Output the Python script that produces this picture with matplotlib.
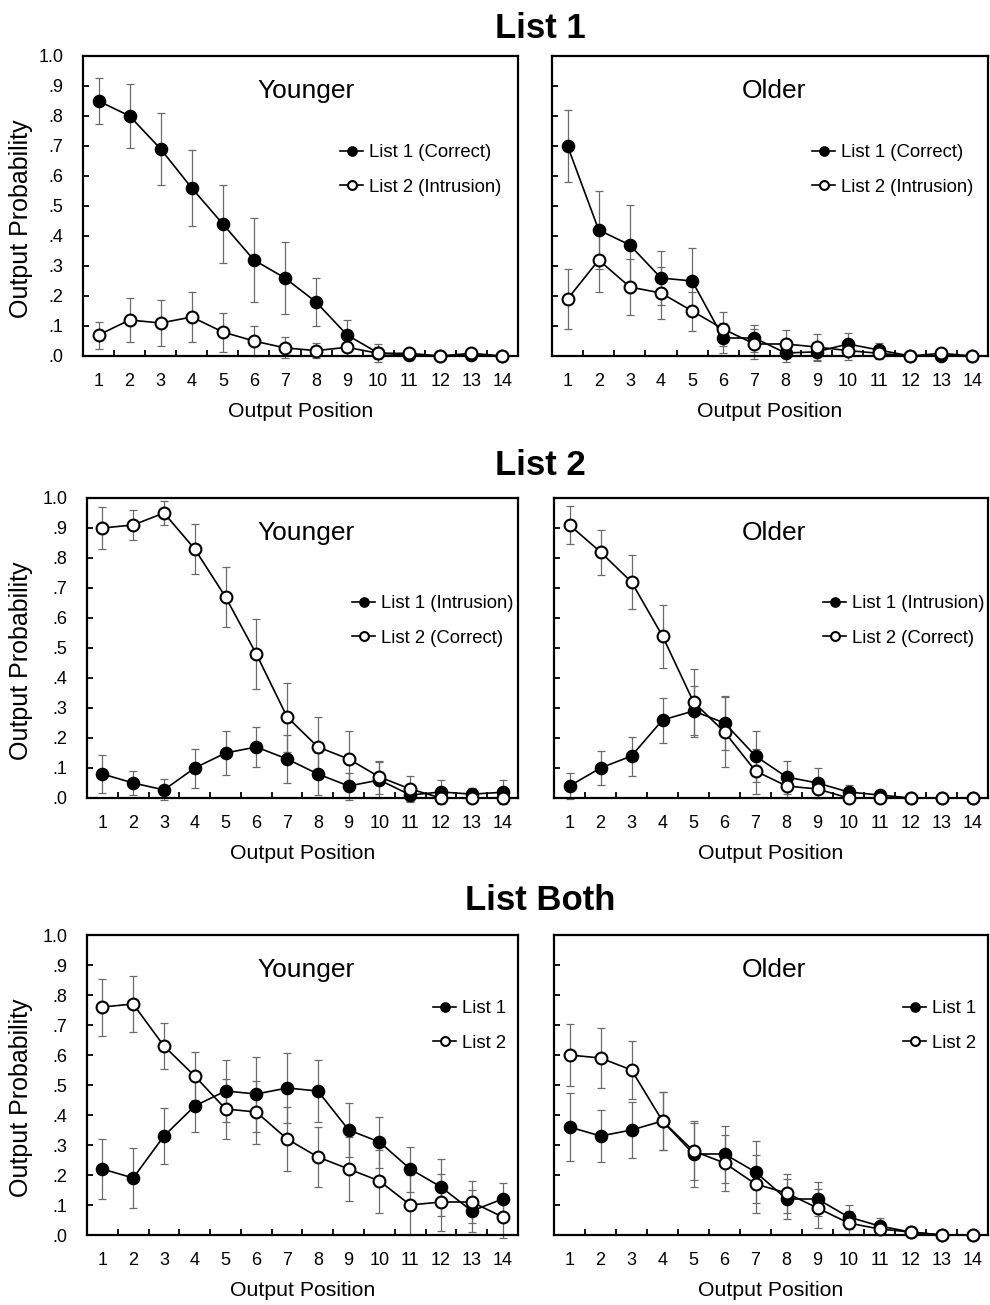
import numpy as np
import matplotlib
matplotlib.use("Agg")
import matplotlib.pyplot as plt

plt.rcParams['font.family'] = ['Liberation Sans', 'DejaVu Sans']

positions = list(range(1, 15))
x_labels = [str(p) for p in positions]
y_ticks = [0.0, 0.1, 0.2, 0.3, 0.4, 0.5, 0.6, 0.7, 0.8, 0.9, 1.0]
y_labels = ['.0', '.1', '.2', '.3', '.4', '.5', '.6', '.7', '.8', '.9', '1.0']

row_titles = ['List 1', 'List 2', 'List Both']
group_names = ['Younger', 'Older']
legend_labels = [
    ['List 1 (Correct)', 'List 2 (Intrusion)'],
    ['List 1 (Intrusion)', 'List 2 (Correct)'],
    ['List 1', 'List 2'],
]

# ---- List 1 test ----
l1_young_list1 = [0.85, 0.80, 0.69, 0.56, 0.44, 0.32, 0.26, 0.18, 0.07, 0.01, 0.003, 0.0, 0.003, 0.0]
l1_young_list1_err = [0.078, 0.107, 0.12, 0.127, 0.131, 0.14, 0.12, 0.08, 0.05, 0.03, 0.01, 0.0, 0.01, 0.0]
l1_young_list2 = [0.07, 0.12, 0.11, 0.13, 0.08, 0.05, 0.027, 0.018, 0.029, 0.009, 0.009, 0.0, 0.009, 0.0]
l1_young_list2_err = [0.045, 0.073, 0.078, 0.083, 0.065, 0.05, 0.035, 0.024, 0.03, 0.02, 0.012, 0.0, 0.012, 0.0]

l1_old_list1 = [0.70, 0.42, 0.37, 0.26, 0.25, 0.06, 0.06, 0.01, 0.014, 0.04, 0.02, 0.0, 0.0, 0.0]
l1_old_list1_err = [0.12, 0.13, 0.135, 0.09, 0.11, 0.05, 0.045, 0.03, 0.03, 0.038, 0.025, 0.0, 0.01, 0.0]
l1_old_list2 = [0.19, 0.32, 0.23, 0.21, 0.15, 0.09, 0.04, 0.04, 0.03, 0.018, 0.009, 0.0, 0.009, 0.0]
l1_old_list2_err = [0.10, 0.105, 0.093, 0.088, 0.065, 0.058, 0.05, 0.048, 0.044, 0.03, 0.02, 0.0, 0.012, 0.0]

# ---- List 2 test ----
l2_young_list1 = [0.08, 0.05, 0.027, 0.10, 0.15, 0.17, 0.13, 0.08, 0.04, 0.06, 0.01, 0.02, 0.013, 0.019]
l2_young_list1_err = [0.063, 0.039, 0.035, 0.065, 0.072, 0.068, 0.08, 0.07, 0.045, 0.06, 0.02, 0.04, 0.02, 0.04]
l2_young_list2 = [0.90, 0.91, 0.95, 0.83, 0.67, 0.48, 0.27, 0.17, 0.13, 0.07, 0.03, 0.0, 0.0, 0.0]
l2_young_list2_err = [0.071, 0.05, 0.041, 0.082, 0.1, 0.118, 0.115, 0.1, 0.095, 0.055, 0.044, 0.0, 0.0, 0.0]

l2_old_list1 = [0.04, 0.10, 0.14, 0.26, 0.29, 0.25, 0.14, 0.07, 0.05, 0.02, 0.01, 0.0, 0.0, 0.0]
l2_old_list1_err = [0.043, 0.058, 0.065, 0.075, 0.085, 0.09, 0.085, 0.055, 0.05, 0.025, 0.012, 0.0, 0.0, 0.0]
l2_old_list2 = [0.91, 0.82, 0.72, 0.54, 0.32, 0.22, 0.09, 0.04, 0.03, 0.0, 0.0, 0.0, 0.0, 0.0]
l2_old_list2_err = [0.064, 0.075, 0.09, 0.105, 0.11, 0.117, 0.075, 0.04, 0.03, 0.0, 0.0, 0.0, 0.0, 0.0]

# ---- List Both test ----
lb_young_list1 = [0.22, 0.19, 0.33, 0.43, 0.48, 0.47, 0.49, 0.48, 0.35, 0.31, 0.22, 0.16, 0.08, 0.12]
lb_young_list1_err = [0.1, 0.1, 0.092, 0.087, 0.104, 0.125, 0.118, 0.104, 0.09, 0.085, 0.075, 0.095, 0.07, 0.055]
lb_young_list2 = [0.76, 0.77, 0.63, 0.53, 0.42, 0.41, 0.32, 0.26, 0.22, 0.18, 0.10, 0.11, 0.11, 0.06]
lb_young_list2_err = [0.095, 0.093, 0.076, 0.08, 0.1, 0.105, 0.108, 0.1, 0.108, 0.105, 0.1, 0.095, 0.07, 0.07]

lb_old_list1 = [0.36, 0.33, 0.35, 0.38, 0.27, 0.27, 0.21, 0.12, 0.12, 0.06, 0.03, 0.01, 0.0, 0.0]
lb_old_list1_err = [0.114, 0.087, 0.093, 0.097, 0.11, 0.095, 0.104, 0.066, 0.057, 0.04, 0.028, 0.012, 0.0, 0.0]
lb_old_list2 = [0.60, 0.59, 0.55, 0.38, 0.28, 0.24, 0.17, 0.14, 0.09, 0.04, 0.02, 0.01, 0.0, 0.0]
lb_old_list2_err = [0.103, 0.1, 0.097, 0.097, 0.095, 0.093, 0.097, 0.065, 0.065, 0.04, 0.02, 0.01, 0.0, 0.0]

panels = [
    [(l1_young_list1, l1_young_list1_err, l1_young_list2, l1_young_list2_err),
     (l1_old_list1, l1_old_list1_err, l1_old_list2, l1_old_list2_err)],
    [(l2_young_list1, l2_young_list1_err, l2_young_list2, l2_young_list2_err),
     (l2_old_list1, l2_old_list1_err, l2_old_list2, l2_old_list2_err)],
    [(lb_young_list1, lb_young_list1_err, lb_young_list2, lb_young_list2_err),
     (lb_old_list1, lb_old_list1_err, lb_old_list2, lb_old_list2_err)],
]

W, H = 990, 1305
fig = plt.figure(figsize=(W / 100, H / 100), dpi=100)

# layout in pixels (left, right, top, bottom)
row_tb = [(56, 356), (498, 798), (935, 1235)]
col_lr = [[(83, 518), (552, 988)], [(87, 518), (554, 988)], [(87, 518), (554, 988)]]
title_y = [28, 466, 901]
group_label_dy = 35
legend_pos = [[(340, 150), (812, 150)], [(352, 601), (823, 601)], [(433, 1006), (903, 1006)]]
group_label_x = [306, 774]

err_color = '#6a6a6a'

for r in range(3):
    top, bot = row_tb[r]
    fig.text(540 / W, 1 - title_y[r] / H, row_titles[r], ha='center', va='center',
             fontsize=25, fontweight='bold')
    for c in range(2):
        left, right = col_lr[r][c]
        ax = fig.add_axes([left / W, 1 - bot / H, (right - left) / W, (bot - top) / H])
        v1, e1, v2, e2 = panels[r][c]

        ax.errorbar(positions, v1, yerr=e1, fmt='none', ecolor=err_color, elinewidth=0.9,
                    capsize=3, capthick=0.9, zorder=2, clip_on=False)
        ax.errorbar(positions, v2, yerr=e2, fmt='none', ecolor=err_color, elinewidth=0.9,
                    capsize=3, capthick=0.9, zorder=2, clip_on=False)
        h1, = ax.plot(positions, v1, color='black', lw=1.2, marker='o', markersize=8.5,
                      markerfacecolor='black', markeredgecolor='black', markeredgewidth=1.3,
                      zorder=3, clip_on=False, label=legend_labels[r][0])
        h2, = ax.plot(positions, v2, color='black', lw=1.2, marker='o', markersize=8.5,
                      markerfacecolor='white', markeredgecolor='black', markeredgewidth=1.5,
                      zorder=4, clip_on=False, label=legend_labels[r][1])

        ax.set_xlim(0.5, 14.5)
        ax.set_ylim(0, 1.0)
        for s in ax.spines.values():
            s.set_linewidth(1.6)

        # category-style x axis: ticks between categories, labels at categories
        ax.set_xticks(np.arange(1.5, 14.0, 1.0))
        ax.set_xticklabels([])
        ax.set_xticks(positions, minor=True)
        ax.set_xticklabels(x_labels, minor=True, fontsize=13)
        ax.tick_params(axis='x', which='major', direction='in', length=4, width=1.3)
        ax.tick_params(axis='x', which='minor', length=0, pad=12)

        ax.set_yticks(y_ticks)
        if c == 0:
            ax.set_yticklabels(y_labels, fontsize=13)
            ax.set_ylabel('Output Probability', fontsize=18)
            ax.yaxis.set_label_coords((33 - left) / (right - left), 0.457)
        else:
            ax.set_yticklabels([])
        ax.tick_params(axis='y', direction='in', length=4, width=1.3, pad=14)

        ax.set_xlabel('Output Position', fontsize=15.3, labelpad=9)

        ax.text((group_label_x[c] - left) / (right - left), 1 - group_label_dy / (bot - top),
                group_names[c], transform=ax.transAxes, ha='center', va='center', fontsize=19)

        lx, ly = legend_pos[r][c]
        ax.legend(handles=[h1, h2], loc='upper left',
                  bbox_to_anchor=(lx / W, 1 - (ly - 6) / H), bbox_transform=fig.transFigure,
                  frameon=False, borderpad=0, borderaxespad=0, handlelength=1.25,
                  handletextpad=0.3, labelspacing=0.95, fontsize=13.3, markerscale=0.75)

fig.savefig('out.png', dpi=100)
